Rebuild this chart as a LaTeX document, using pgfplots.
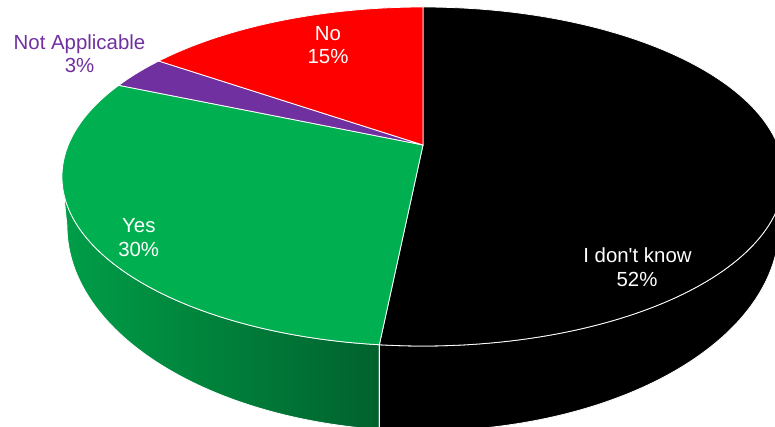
\documentclass[border=0pt]{standalone}
\usepackage{fontspec}
\setmainfont{Liberation Sans}
\usepackage{pgfplots}
\usepackage{pgfplotstable}
\pgfplotsset{compat=1.18}
\definecolor{cGreen}{RGB}{0,176,80}
\definecolor{cPurple}{RGB}{112,48,160}
\definecolor{cRed}{RGB}{255,0,0}
\definecolor{wallL}{RGB}{0,158,72}
\definecolor{wallR}{RGB}{0,98,45}

\pgfplotstableread{
label value
Idk 51.6
Yes 29.8
NA 3.2
No 15.4
}\piedata

% geometry of the tilted pie (in bp, y upwards)
\def\cx{423}\def\apY{282}
\def\cyT{250.5}\def\rxT{361}\def\ryT{169.5}
\def\cyB{201}\def\rxB{356}\def\ryB{205}
\def\kk{0.1858}

\newcommand\pieT[3]{%
  \pgfmathsetmacro\thTmp{90-3.6*#1}%
  \pgfmathsetmacro\rawT{atan2(sin(\thTmp)+\kk, sqrt(1-\kk*\kk)*cos(\thTmp))}%
  \pgfmathsetmacro#3{#2-mod(#2-\rawT+720,360)}%
}
\newcommand\slice[5]{% color, tstart, tend, x start, y start
  \filldraw[fill=#1, draw=white, line width=0.8bp]
    (axis cs:\cx,\apY) -- (axis cs:#4,#5)
    arc[start angle=#2, end angle=#3, x radius=\rxT bp, y radius=\ryT bp] -- cycle;}
\newcommand\lab[4]{% x, y (baseline), color, text
  \node[anchor=base, inner sep=0pt, text=#3, font=\fontsize{20.4bp}{24bp}\selectfont] at (axis cs:#1,#2) {#4};}

\begin{document}
\begin{tikzpicture}
\pgfplotstablegetelem{0}{value}\of\piedata \pgfmathsetmacro\vA{\pgfplotsretval}
\pgfplotstablegetelem{1}{value}\of\piedata \pgfmathsetmacro\vB{\pgfplotsretval}
\pgfplotstablegetelem{2}{value}\of\piedata \pgfmathsetmacro\vC{\pgfplotsretval}
\pgfplotstablegetelem{3}{value}\of\piedata \pgfmathsetmacro\vD{\pgfplotsretval}
\pgfmathsetmacro\cA{\vA}
\pgfmathsetmacro\cB{\vA+\vB}
\pgfmathsetmacro\cC{\vA+\vB+\vC}
\pgfmathsetmacro\cD{\vA+\vB+\vC+\vD}
\def\tO{90}
\pieT{\cA}{\tO}{\tA}
\pieT{\cB}{\tA}{\tB}
\pieT{\cC}{\tB}{\tC}
\pieT{\cD}{\tC}{\tD}
\pgfmathsetmacro\xO{\cx+\rxT*cos(\tO)}\pgfmathsetmacro\yO{\cyT+\ryT*sin(\tO)}
\pgfmathsetmacro\xA{\cx+\rxT*cos(\tA)}\pgfmathsetmacro\yA{\cyT+\ryT*sin(\tA)}
\pgfmathsetmacro\xB{\cx+\rxT*cos(\tB)}\pgfmathsetmacro\yB{\cyT+\ryT*sin(\tB)}
\pgfmathsetmacro\xC{\cx+\rxT*cos(\tC)}\pgfmathsetmacro\yC{\cyT+\ryT*sin(\tC)}
% wall split
\pgfmathsetmacro\tb{-acos((\xA-\cx)/\rxB)}
\pgfmathsetmacro\yb{\cyB+\ryB*sin(\tb)}
\pgfmathsetmacro\tAw{360+\tA}
\pgfmathsetmacro\tbw{360+\tb}
\pgfmathsetmacro\xL{\cx-\rxT}
\pgfmathsetmacro\xR{\cx+\rxB}
\begin{axis}[width=775bp, height=427bp, scale only axis,
  xmin=0, xmax=775, ymin=0, ymax=427, hide axis, clip=true]
% side walls
\shadedraw[left color=wallL, right color=wallR, draw=white, line width=0.8bp]
  (axis cs:\xL,\cyT) arc[start angle=180, end angle=\tAw, x radius=\rxT bp, y radius=\ryT bp]
  -- (axis cs:\xA,\yb) arc[start angle=\tbw, end angle=180, x radius=\rxB bp, y radius=\ryB bp] -- cycle;
\filldraw[fill=black, draw=white, line width=0.8bp]
  (axis cs:\xA,\yA) arc[start angle=\tAw, end angle=360, x radius=\rxT bp, y radius=\ryT bp]
  -- (axis cs:\xR,\cyB) arc[start angle=360, end angle=\tbw, x radius=\rxB bp, y radius=\ryB bp] -- cycle;
% top face
\slice{black}{\tO}{\tA}{\xO}{\yO}
\slice{cGreen}{\tA}{\tB}{\xA}{\yA}
\slice{cPurple}{\tB}{\tC}{\xB}{\yB}
\slice{cRed}{\tC}{\tD}{\xC}{\yC}
% labels
\lab{79.5}{377.7}{cPurple}{Not Applicable}
\lab{79.5}{354.3}{cPurple}{3\%}
\lab{328}{386.3}{white}{No}
\lab{328}{363}{white}{15\%}
\lab{138.8}{194.7}{white}{Yes}
\lab{138.7}{170.3}{white}{30\%}
\lab{637.5}{164.3}{white}{I don\textquotesingle t know}
\lab{637}{140.3}{white}{52\%}
\end{axis}
\pgfresetboundingbox
\path[use as bounding box] (current axis.south west) rectangle (current axis.north east);
\end{tikzpicture}
\end{document}
